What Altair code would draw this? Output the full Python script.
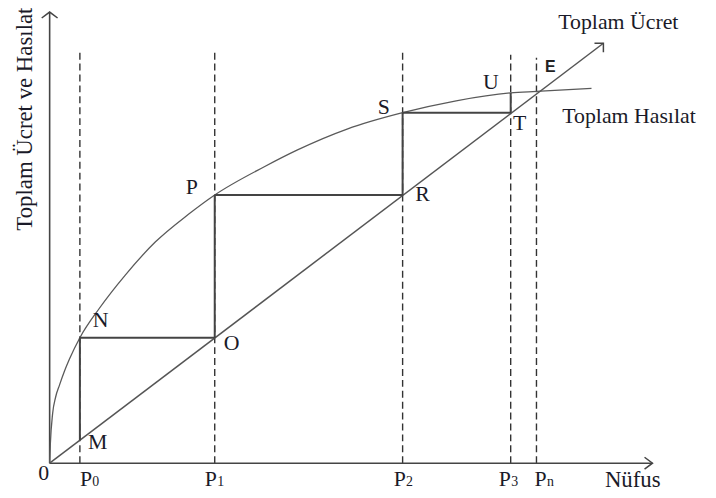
import altair as alt
import pandas as pd

# ---- values (arbitrary units) ----
pop_letters = ["P", "P", "P", "P", "P"]
pop_subs = ["0", "1", "2", "3", "n"]
pop_values = [6.1, 33.3, 71.2, 93.0, 98.2]
dash_tops = [83.0, 83.0, 83.0, 82.4, 81.8]

# total wage (straight line) and total product (curve) at those population levels
wage_at_pop = [4.64, 25.3, 54.1, 70.7, 74.6]
product_at_pop = [25.3, 54.1, 70.7, 74.7, 74.6]

# total product curve (Toplam Hasılat)
curve_x = [0, 0.15, 0.6, 1.2, 2.0, 3.0, 4.0, 6.1, 10.0, 15.3, 21.3, 28.0, 33.3,
           43.3, 50.0, 60.0, 71.2, 82.0, 93.0, 98.2, 109.3]
curve_y = [0, 4.0, 10.0, 13.3, 15.8, 18.6, 21.0, 25.3, 31.2, 38.0, 44.6, 50.2, 54.1,
           59.8, 63.2, 67.4, 70.7, 73.1, 74.7, 75.0, 75.6]

# total wage line (Toplam Ücret)
wage_line_x = [0, 111.7]
wage_line_y = [0, 84.7]

# axis extents
x_axis_end = 121.6
y_axis_end = 91.0

point_names = ["M", "N", "O", "P", "R", "S", "T", "U", "E"]
series_names_txt = ["Toplam Ücret", "Toplam Hasılat"]
x_title = "Nüfus"
y_title_txt = "Toplam Ücret ve Hasılat"

# ---- layout / style (not data) ----
PX = 5.0  # pixels per data unit on both axes
W, H = 608, 455
SERIF = "Liberation Serif"
TXT = "#1a1a28"

xs = alt.Scale(domain=[0, x_axis_end], nice=False, zero=False)
ys = alt.Scale(domain=[0, y_axis_end], nice=False, zero=False)


def X(f="x"):
    return alt.X(f"{f}:Q", scale=xs, axis=None)


def Y(f="y"):
    return alt.Y(f"{f}:Q", scale=ys, axis=None)


def segs(rows, color, width, dash=None):
    df = pd.DataFrame(rows, columns=["x", "y", "x2", "y2"])
    kw = dict(color=color, strokeWidth=width)
    if dash:
        kw["strokeDash"] = dash
    return alt.Chart(df).mark_rule(**kw).encode(
        x=X(), y=Y(), x2="x2:Q", y2="y2:Q")


def text_layer(df, **kw):
    base = dict(font=SERIF, color=TXT, baseline="middle", align="center")
    base.update(kw)
    return alt.Chart(df).mark_text(**base).encode(x=X(), y=Y(), text="t:N")


# axes
axes = segs([[0, 0, x_axis_end, 0], [0, 0, 0, y_axis_end]], "#444444", 1.6)

# dashed verticals
dashed = segs([[p, 0, p, t] for p, t in zip(pop_values, dash_tops)],
              "#333333", 1.4, [7, 4])

# solid cobweb segments
box_rows = []
for i in range(4):
    box_rows.append([pop_values[i], wage_at_pop[i], pop_values[i], product_at_pop[i]])
for i in range(3):
    box_rows.append([pop_values[i], product_at_pop[i], pop_values[i + 1], wage_at_pop[i + 1]])
box = segs(box_rows, "#444444", 2.0)

# wage line
wage = segs([[wage_line_x[0], wage_line_y[0], wage_line_x[1], wage_line_y[1]]],
            "#555555", 1.5)

# product curve
curve_df = pd.DataFrame({"x": curve_x, "y": curve_y, "o": range(len(curve_x))})
curve = alt.Chart(curve_df).mark_line(
    color="#5a5a5a", strokeWidth=1.3, interpolate="monotone"
).encode(x=X(), y=Y(), order="o:Q")

# arrowheads (open chevrons)
arrows_df = pd.DataFrame({
    "x": [x_axis_end, 0, wage_line_x[1]],
    "y": [0, y_axis_end, wage_line_y[1]],
    "shape": ["M-8,-6L0,0L-8,6", "M-8,6L0,0L8,6", "M-9,0L0,0L0,9"],
})
arrows = alt.Chart(arrows_df).mark_point(
    filled=False, color="#444444", strokeWidth=1.5, size=4, opacity=1
).encode(x=X(), y=Y(), shape=alt.Shape("shape:N", scale=None, legend=None))

# point labels: anchors from the data, offsets in pixels
anchors = [
    (pop_values[0], wage_at_pop[0]),     # M
    (pop_values[0], product_at_pop[0]),  # N
    (pop_values[1], wage_at_pop[1]),     # O
    (pop_values[1], product_at_pop[1]),  # P
    (pop_values[2], wage_at_pop[2]),     # R
    (pop_values[2], product_at_pop[2]),  # S
    (pop_values[3], wage_at_pop[3]),     # T
    (pop_values[3], product_at_pop[3]),  # U
    (pop_values[4], wage_at_pop[4]),     # E
]
offsets = [(18, 2), (21, -18), (17, 5), (-23, -8), (20, -1),
           (-19, -6), (9, 10), (-20, -11), (14, -27)]
lab_df = pd.DataFrame({
    "x": [a[0] + o[0] / PX for a, o in zip(anchors, offsets)],
    "y": [a[1] - o[1] / PX for a, o in zip(anchors, offsets)],
    "t": point_names,
})
serif_labels = text_layer(lab_df[lab_df.t != "E"], fontSize=22)
e_label = text_layer(lab_df[lab_df.t == "E"], font="Liberation Sans", fontSize=16,
                     fontWeight="bold", color="#222222")

# population tick labels: "P" plus a small index
start_dx = [0, -10, -9, -12, -2]
P_W = 12.5
base_y = -23.5 / PX
p_df = pd.DataFrame({
    "x": [p + d / PX for p, d in zip(pop_values, start_dx)],
    "y": [base_y] * len(pop_values),
    "t": pop_letters,
})
s_df = pd.DataFrame({
    "x": [p + (d + P_W) / PX for p, d in zip(pop_values, start_dx)],
    "y": [base_y] * len(pop_values),
    "t": pop_subs,
})
p_text = text_layer(p_df, fontSize=22, align="left", baseline="alphabetic")
s_text = text_layer(s_df, fontSize=14, align="left", baseline="alphabetic")

# other texts
zero_text = text_layer(pd.DataFrame({"x": [-6 / PX], "y": [-10 / PX], "t": ["0"]}),
                       fontSize=22)
nufus = text_layer(pd.DataFrame({"x": [112.0], "y": [-17 / PX], "t": [x_title]}),
                   fontSize=23, align="left")
series_names = text_layer(pd.DataFrame({
    "x": [102.6, 103.4], "y": [88.9, 70.0], "t": series_names_txt}),
    fontSize=22, align="left")
y_title = text_layer(pd.DataFrame({"x": [-5.0], "y": [69.4], "t": [y_title_txt]}),
                     fontSize=23, angle=270)

chart = alt.layer(
    dashed, axes, curve, wage, box, arrows,
    serif_labels, e_label, p_text, s_text, zero_text, nufus, series_names, y_title
).properties(
    width=W, height=H,
    autosize=alt.AutoSizeParams(type="none"),
    padding={"left": 42, "top": 2, "right": 56, "bottom": 28},
    background="white",
).configure_view(stroke=None)

chart.save("out.html", embed_options={"renderer": "svg", "actions": False})
